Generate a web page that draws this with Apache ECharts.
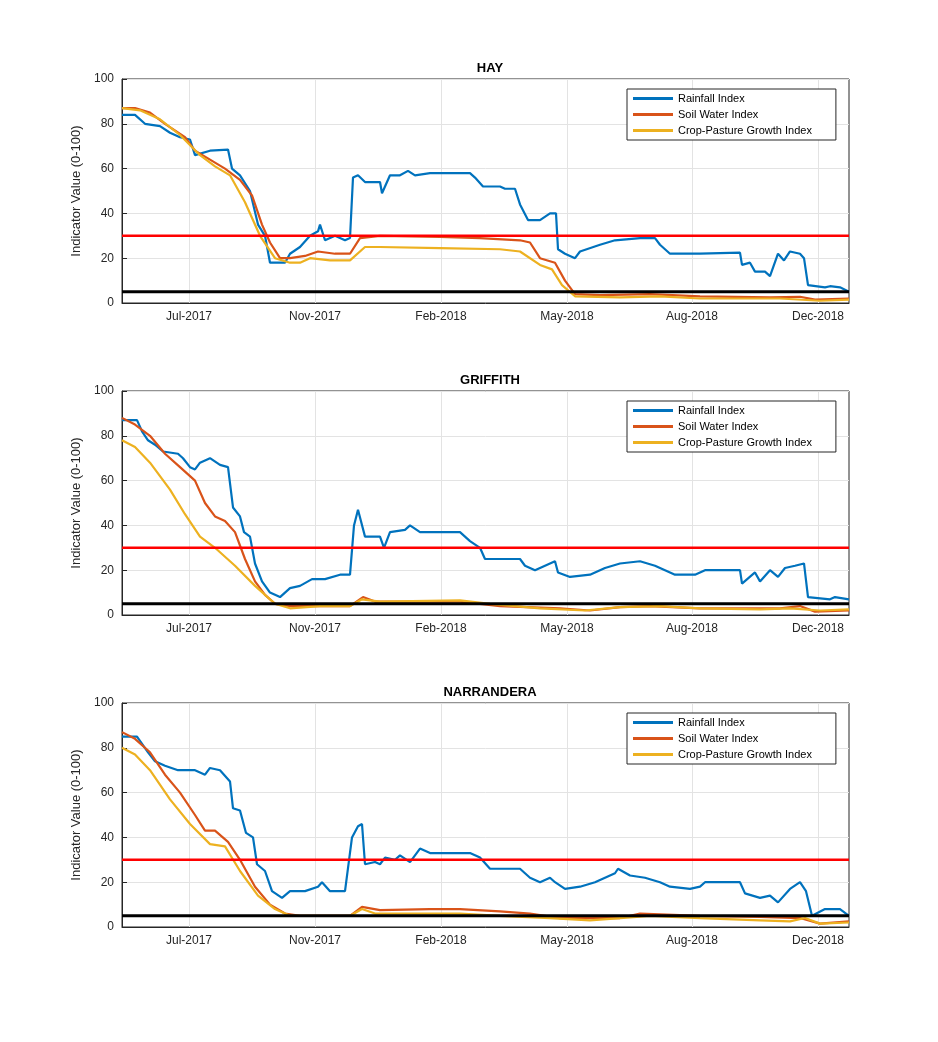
<!DOCTYPE html>
<html>
<head>
<meta charset="utf-8">
<script src="https://cdn.jsdelivr.net/npm/echarts@6/dist/echarts.min.js"></script>
<style>body{margin:0;background:#fff}#c{width:938px;height:1042px}</style>
</head>
<body>
<div id="c"></div>
<script>
// time axis is in plot units (0 = start of record, 727 = end)
const tickPos = [67, 193, 319, 445, 570, 696];
const tickLabels = ['Jul-2017', 'Nov-2017', 'Feb-2018', 'May-2018', 'Aug-2018', 'Dec-2018'];
const stations = ['HAY', 'GRIFFITH', 'NARRANDERA'];
const seriesNames = ['Rainfall Index', 'Soil Water Index', 'Crop-Pasture Growth Index'];

// [time, value] pairs
const hayRain = [[0,84],[13,84],[23,80],[38,79],[48,76],[58,74],[68,73],[73,66],[88,68],[106,68.5],[110,60],[118,57],[128,50],[136,35],[143,30],[148,18],[163,18],[168,22],[178,25],[188,30],[196,32],[198,35],[203,28],[213,30],[223,28],[228,29],[231,56],[236,57],[243,54],[258,54],[260,49],[268,57],[278,57],[286,59],[293,57],[308,58],[348,58],[353,56],[361,52],[378,52],[383,51],[393,51],[398,44],[406,37],[418,37],[428,40],[434,40],[436,24],[443,22],[453,20],[458,23],[478,26],[493,28],[518,29],[533,29],[538,26],[548,22],[578,22],[618,22.5],[620,17],[628,18],[633,14],[643,14],[648,12],[656,22],[662,19],[668,23],[678,22],[682,20],[686,8],[703,7],[708,7.5],[718,7],[727,5]];
const haySoil = [[0,87],[13,87],[28,85],[43,80],[63,74],[73,68],[88,64],[103,60],[118,55],[130,48],[140,35],[148,27],[158,20],[168,20],[183,21],[196,23],[213,22],[228,22],[238,29],[258,30],[318,29.5],[358,29],[398,28],[408,27],[418,20],[433,18],[443,10],[453,4],[478,3.5],[528,4],[578,3],[648,2.5],[678,2.8],[693,1.5],[727,2]];
const hayCrop = [[0,87],[18,86],[38,82],[58,75],[78,66],[93,61],[108,57],[123,45],[138,30],[153,20],[168,18],[178,18],[188,20],[208,19],[228,19],[243,25],[258,25],[318,24.5],[378,24],[398,23],[418,17],[430,15],[440,8],[453,3],[498,2.5],[538,3],[578,2],[658,2],[698,1],[727,1.5]];

const grfRain = [[0,87],[15,87],[20,82],[26,78],[33,76],[41,73],[56,72],[61,70],[68,66],[73,65],[78,68],[88,70],[98,67],[106,66],[111,48],[118,44],[122,37],[128,35],[133,23],[140,15],[148,10],[158,8],[168,12],[178,13],[190,16],[203,16],[218,18],[228,18],[232,40],[236,47],[243,35],[258,35],[262,30],[268,37],[283,38],[288,40],[298,37],[338,37],[348,33],[358,30],[363,25],[398,25],[403,22],[413,20],[423,22],[433,24],[436,19],[448,17],[468,18],[483,21],[498,23],[518,24],[533,22],[543,20],[553,18],[573,18],[583,20],[618,20],[620,14],[633,19],[638,15],[648,20],[656,17],[663,21],[673,22],[682,23],[686,8],[708,7],[713,8],[727,7]];
const grfSoil = [[0,88],[13,85],[28,80],[43,72],[58,66],[73,60],[83,50],[93,44],[103,42],[113,37],[123,25],[133,15],[143,9],[153,5],[168,4],[228,4],[241,8],[253,6],[338,6],[378,4],[438,3],[468,2],[498,3.5],[528,4],[578,3],[658,3],[678,4],[693,1.5],[727,2]];
const grfCrop = [[0,78],[13,75],[28,68],[48,56],[63,45],[78,35],[93,30],[113,22],[133,13],[153,5],[168,3],[198,4],[228,4],[240,7],[258,6],[338,6.5],[368,5],[418,3],[463,2],[498,3.5],[538,4],[578,3],[638,2.5],[668,3],[698,2],[727,2.5]];

const narRain = [[0,85],[15,85],[26,78],[33,74],[43,72],[56,70],[73,70],[83,68],[88,71],[98,70],[108,65],[111,53],[118,52],[124,42],[131,40],[135,28],[143,25],[150,16],[160,13],[168,16],[183,16],[196,18],[200,20],[208,16],[223,16],[230,40],[236,45],[240,46],[243,28],[253,29],[258,28],[263,31],[273,30],[278,32],[288,29],[298,35],[308,33],[348,33],[358,31],[368,26],[398,26],[408,22],[418,20],[428,22],[433,20],[443,17],[458,18],[473,20],[483,22],[493,24],[496,26],[508,23],[523,22],[538,20],[548,18],[568,17],[578,18],[583,20],[618,20],[623,15],[638,13],[648,14],[656,11],[668,17],[678,20],[684,16],[690,5],[703,8],[718,8],[727,5]];
const narSoil = [[0,87],[13,84],[28,78],[43,68],[58,60],[73,50],[83,43],[93,43],[106,38],[118,30],[133,18],[148,10],[163,6],[178,5],[228,5],[240,9],[258,7.5],[308,8],[338,8],[378,7],[408,6],[438,4],[498,4],[518,6],[578,5],[638,4.5],[678,4],[698,1.5],[727,2.5]];
const narCrop = [[0,80],[13,77],[28,70],[48,57],[68,46],[88,37],[103,36],[118,25],[136,14],[153,8],[168,5],[228,5],[240,8],[253,6],[338,6],[378,5],[428,4],[468,3],[498,4],[528,5],[578,4],[638,3],[668,2.5],[683,4],[698,1.5],[727,2]];

const panelData = [[hayRain, haySoil, hayCrop], [grfRain, grfSoil, grfCrop], [narRain, narSoil, narCrop]];
const colors = ['#0072BD', '#D95319', '#EDB120'];
const tops = [79, 391, 703];

const chart = echarts.init(document.getElementById('c'));
const grid = [], xAxis = [], yAxis = [], series = [], legend = [], title = [];

tops.forEach(function (top, i) {
  grid.push({ left: 122, top: top, width: 727, height: 224, show: true, borderColor: '#262626', borderWidth: 1 });
  title.push({ text: stations[i], left: 485, top: top - 22, textAlign: 'center',
    textStyle: { fontFamily: 'Arial, Liberation Sans', fontSize: 13, fontWeight: 'bold', color: '#000' } });
  xAxis.push({ type: 'value', gridIndex: i, min: 0, max: 727,
    axisLine: { lineStyle: { color: '#262626' } },
    axisTick: { customValues: tickPos, length: -5, lineStyle: { color: '#262626' } },
    axisLabel: { customValues: tickPos, color: '#262626', fontSize: 12, fontFamily: 'Arial, Liberation Sans',
      formatter: function (v) { return tickLabels[tickPos.indexOf(v)] || ''; } },
    splitLine: { show: false } });
  yAxis.push({ type: 'value', gridIndex: i, min: 0, max: 100, interval: 20,
    name: 'Indicator Value (0-100)', nameLocation: 'middle', nameGap: 30,
    nameTextStyle: { fontSize: 13, color: '#262626', fontFamily: 'Arial, Liberation Sans' },
    axisLine: { show: true, lineStyle: { color: '#262626' } },
    axisTick: { show: true, inside: true, length: 5 },
    axisLabel: { color: '#262626', fontSize: 12, fontFamily: 'Arial, Liberation Sans' },
    splitLine: { lineStyle: { color: '#e3e3e3' } } });
  panelData[i].forEach(function (d, k) {
    const s = { name: seriesNames[k], type: 'line', xAxisIndex: i, yAxisIndex: i, data: d,
      showSymbol: false, lineStyle: { width: 2.2, color: colors[k] }, itemStyle: { color: colors[k] }, z: 3 + k };
    if (k === 0) {
      s.markLine = { silent: true, symbol: 'none', label: { show: false },
        lineStyle: { color: '#e3e3e3', type: 'solid', width: 1 },
        data: tickPos.map(function (p) { return { xAxis: p }; }), z: 1 };
    }
    series.push(s);
  });
  series.push({ type: 'line', xAxisIndex: i, yAxisIndex: i, data: [[0, 30], [727, 30]], showSymbol: false,
    lineStyle: { color: '#ff0000', width: 2.5 }, z: 6, silent: true });
  series.push({ type: 'line', xAxisIndex: i, yAxisIndex: i, data: [[0, 5], [727, 5]], showSymbol: false,
    lineStyle: { color: '#000', width: 3 }, z: 7, silent: true });
  legend.push({ orient: 'vertical', left: 627, top: top + 10, data: seriesNames, itemWidth: 40, itemHeight: 3,
    itemGap: 5, padding: [4, 24, 4, 6], borderColor: '#262626', borderWidth: 1, backgroundColor: '#fff',
    icon: 'rect', selectedMode: false,
    textStyle: { fontSize: 11, color: '#000', fontFamily: 'Arial, Liberation Sans' } });
});

chart.setOption({ animation: false, title: title, grid: grid, xAxis: xAxis, yAxis: yAxis, legend: legend, series: series });
</script>
</body>
</html>
